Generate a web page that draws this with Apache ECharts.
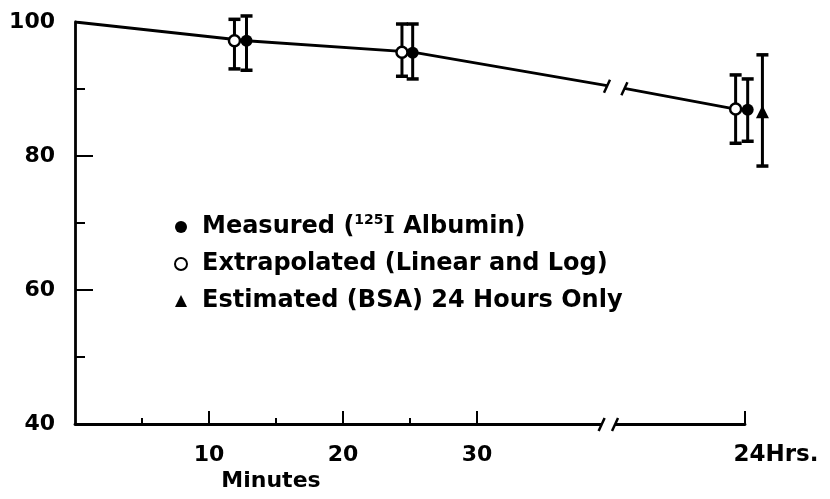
<!DOCTYPE html>
<html><head><meta charset="utf-8">
<script src="https://cdn.jsdelivr.net/npm/echarts@6/dist/echarts.min.js"></script>
<style>html,body{margin:0;padding:0;background:#fff}#c{width:830px;height:499px}</style>
</head><body><div id="c"></div>
<script>
// ---- data (x in minutes; the 24-hour group sits past the axis break at x≈50) ----
const trendX = [0, 12.8, 25.2, 39.7, null, 41.0, 49.3];
const trendY = [100, 97.2, 95.5, 90.5, null, 90.1, 87.0];
const measuredX = [12.8, 25.2, 50.2];
const measuredY = [97.2, 95.4, 86.9];
const measuredLow = [92.8, 91.5, 82.2];
const measuredHigh = [100.9, 99.7, 91.5];
const extrapX = [11.9, 24.4, 49.3];
const extrapY = [97.2, 95.5, 87.0];
const extrapLow = [93.0, 91.9, 81.9];
const extrapHigh = [100.4, 99.7, 92.1];
const estX = [51.3];
const estY = [86.6];
const estLow = [78.5];
const estHigh = [95.1];
const xLabelValues = [10, 20, 30, 50];
const xLabelText = {10: '10', 20: '20', 30: '30', 50: '24Hrs.'};
const xMajorTicks = [10, 20, 30, 50];
const xMinorTicks = [5, 15, 25];
const yLabelValues = [40, 60, 80, 100];
const yMajorTicks = [60, 80];
const yMinorTicks = [50, 70, 90];
const axisBreak = [39.3, 40.3];
const lineBreak = [39.7, 41.0];
const seriesNames = ['Measured (125I Albumin)', 'Extrapolated (Linear and Log)', 'Estimated (BSA) 24 Hours Only'];

const FONT = 'DejaVu Sans';
const zip = (a, b) => a.map((v, i) => (v === null ? null : [v, b[i]]));
const zip3 = (a, b, c) => a.map((v, i) => [v, b[i], c[i]]);

function errItem(params, api) {
  const x = api.value(0), lo = api.value(1), hi = api.value(2);
  const pLo = api.coord([x, lo]), pHi = api.coord([x, hi]);
  const w = 6;
  const st = {stroke: '#000', lineWidth: 3};
  return {type: 'group', children: [
    {type: 'line', shape: {x1: pLo[0], y1: pLo[1], x2: pHi[0], y2: pHi[1]}, style: st},
    {type: 'line', shape: {x1: pLo[0] - w, y1: pLo[1], x2: pLo[0] + w, y2: pLo[1]}, style: {stroke: '#000', lineWidth: 3.5}},
    {type: 'line', shape: {x1: pHi[0] - w, y1: pHi[1], x2: pHi[0] + w, y2: pHi[1]}, style: {stroke: '#000', lineWidth: 3.5}}
  ]};
}

function breakItem(params, api) {
  const a = api.coord([api.value(0), api.value(1)]);
  const b = api.coord([api.value(2), api.value(3)]);
  const st = {stroke: '#000', lineWidth: 2.5};
  const children = [];
  if (api.value(4) === 1) {
    children.push({type: 'rect', shape: {x: a[0], y: a[1] - 3, width: b[0] - a[0], height: 6}, style: {fill: '#fff'}});
  }
  children.push({type: 'line', shape: {x1: a[0] - 3, y1: a[1] + 7, x2: a[0] + 3, y2: a[1] - 6}, style: st});
  children.push({type: 'line', shape: {x1: b[0] - 3, y1: b[1] + 7, x2: b[0] + 3, y2: b[1] - 6}, style: st});
  return {type: 'group', children};
}

const chart = echarts.init(document.getElementById('c'), null, {renderer: 'canvas'});
const baseX = {type: 'value', min: 0, max: 50, interval: 5, splitLine: {show: false}};
const baseY = {type: 'value', min: 40, max: 100, interval: 10, splitLine: {show: false}};
const labelStyle = {color: '#000', fontFamily: FONT, fontWeight: 'bold', fontSize: 22};

chart.setOption({
  animation: false,
  backgroundColor: '#fff',
  grid: {left: 75, right: 85, top: 22, bottom: 75, containLabel: false},
  xAxis: [
    Object.assign({}, baseX, {
      axisLine: {show: true, lineStyle: {color: '#000', width: 2.8}},
      axisTick: {show: true, inside: true, length: 13, customValues: xMajorTicks, lineStyle: {color: '#000', width: 2}},
      axisLabel: Object.assign({}, labelStyle, {margin: 20, customValues: xLabelValues,
        formatter: v => (v === 50 ? '{h|' + xLabelText[v] + '}' : xLabelText[v]),
        rich: {h: Object.assign({}, labelStyle, {fontSize: 23, padding: [0, 0, 0, 62]})}})
    }),
    Object.assign({}, baseX, {
      position: 'bottom',
      axisLine: {show: false},
      axisTick: {show: true, inside: true, length: 6, customValues: xMinorTicks, lineStyle: {color: '#000', width: 2}},
      axisLabel: {show: false}
    })
  ],
  yAxis: [
    Object.assign({}, baseY, {
      axisLine: {show: true, lineStyle: {color: '#000', width: 2.8}},
      axisTick: {show: true, inside: true, length: 18, customValues: yMajorTicks, lineStyle: {color: '#000', width: 2}},
      axisLabel: Object.assign({}, labelStyle, {margin: 20, customValues: yLabelValues})
    }),
    Object.assign({}, baseY, {
      position: 'left',
      axisLine: {show: false},
      axisTick: {show: true, inside: true, length: 10, customValues: yMinorTicks, lineStyle: {color: '#000', width: 2}},
      axisLabel: {show: false}
    })
  ],
  legend: {
    orient: 'vertical', left: 169, top: 208, itemWidth: 12, itemHeight: 12, itemGap: 9,
    data: seriesNames,
    formatter: n => (n === seriesNames[0] ? 'Measured ({sup|125}{ser|I} Albumin)' : n),
    textStyle: Object.assign({}, labelStyle, {fontSize: 24, padding: [0, 0, 0, 10], lineHeight: 28,
      rich: {
        sup: {fontFamily: FONT, fontWeight: 'bold', fontSize: 14, color: '#000', verticalAlign: 'top', lineHeight: 28},
        ser: {fontFamily: 'DejaVu Serif', fontWeight: 'bold', fontSize: 24, color: '#000', lineHeight: 28}
      }})
  },
  graphic: [{type: 'text', x: 271, y: 481, style: {text: 'Minutes', align: 'center', verticalAlign: 'middle', font: 'bold 22px "DejaVu Sans"', fill: '#000'}}],
  series: [
    {type: 'line', name: 'trend', data: zip(trendX, trendY), showSymbol: false, symbol: 'none', connectNulls: false,
      lineStyle: {color: '#000', width: 2.8}, z: 2, silent: true},
    {type: 'custom', name: 'breakAxis', renderItem: breakItem, clip: false, z: 3, silent: true,
      data: [[axisBreak[0], 40, axisBreak[1], 40, 1]]},
    {type: 'custom', name: 'breakLine', renderItem: breakItem, clip: false, z: 3, silent: true,
      data: [[lineBreak[0], trendY[3], lineBreak[1], trendY[5], 0]]},
    {type: 'custom', name: 'errM', renderItem: errItem, clip: false, z: 3, encode: {x: 0, y: [1, 2]}, data: zip3(measuredX, measuredLow, measuredHigh)},
    {type: 'custom', name: 'errE', renderItem: errItem, clip: false, z: 3, encode: {x: 0, y: [1, 2]}, data: zip3(extrapX, extrapLow, extrapHigh)},
    {type: 'custom', name: 'errB', renderItem: errItem, clip: false, z: 3, encode: {x: 0, y: [1, 2]}, data: zip3(estX, estLow, estHigh)},
    {type: 'scatter', name: seriesNames[0], data: zip(measuredX, measuredY), symbol: 'circle', symbolSize: 12, clip: false, z: 5,
      itemStyle: {color: '#000', opacity: 1}},
    {type: 'scatter', name: seriesNames[1], data: zip(extrapX, extrapY), symbol: 'circle', symbolSize: 11, clip: false, z: 6,
      itemStyle: {color: '#fff', borderColor: '#000', borderWidth: 2.5, opacity: 1}},
    {type: 'scatter', name: seriesNames[2], data: zip(estX, estY), symbol: 'triangle', symbolSize: 13, clip: false, z: 5,
      itemStyle: {color: '#000', opacity: 1}}
  ]
});
</script>
</body></html>
